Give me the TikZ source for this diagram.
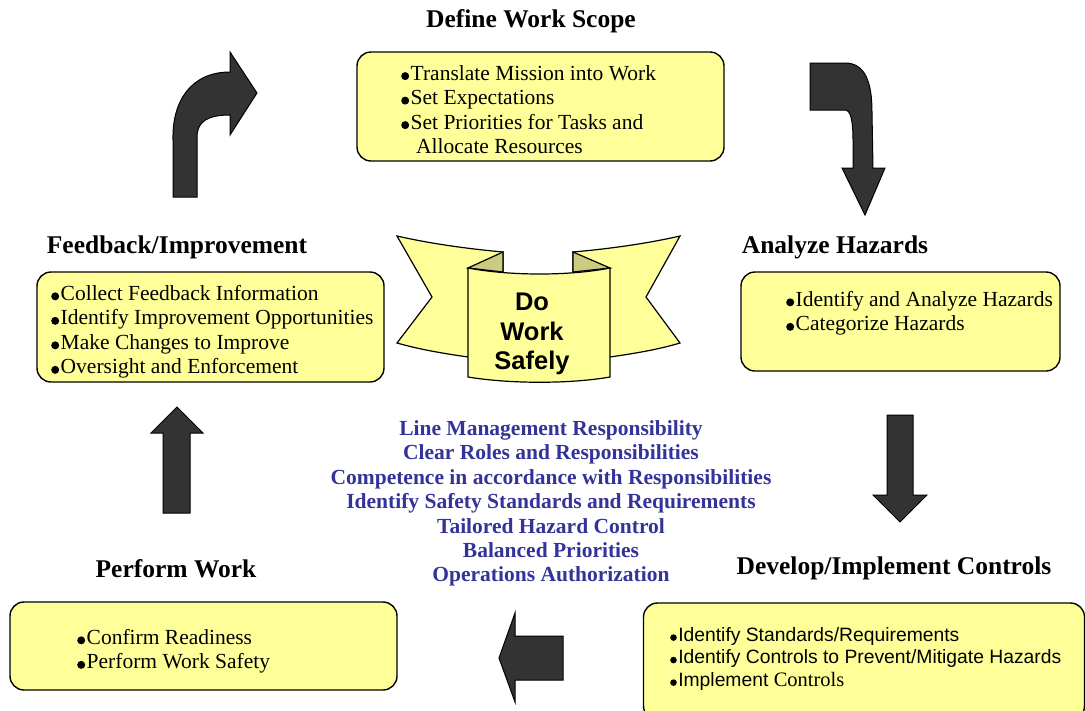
\documentclass[tikz,border=0pt]{standalone}
\usepackage{fontspec}
\setmainfont{Liberation Serif}
\setsansfont{Liberation Sans}
\definecolor{boxyellow}{RGB}{255,255,153}
\definecolor{foldolive}{RGB}{204,204,128}
\definecolor{arrowgray}{RGB}{51,51,51}
\definecolor{principleblue}{RGB}{51,51,153}
% round list bullets sitting on the baseline
\newcommand\bul{\tikz[baseline=0pt,x=1pt,y=1pt]\fill[black] (0,4) circle[radius=4];\hspace{1.5pt}}
\newcommand\sbul{\tikz[baseline=0pt,x=1pt,y=1pt]\fill[black] (0,3.6) circle[radius=3.3];\hspace{1.5pt}}
\begin{document}
\begin{tikzpicture}[x=1pt,y=-1pt,
  box/.style={draw=black, line width=1.4pt, fill=boxyellow, rounded corners=14pt, inner sep=0pt},
  heading/.style={font=\fontsize{25.5}{30}\selectfont\bfseries, inner sep=0pt},
  body/.style={font=\fontsize{21.5}{24.5}\selectfont, align=left, anchor=north west, inner sep=0pt},
  sbody/.style={font=\sffamily\fontsize{19.3}{22.5}\selectfont, align=left, anchor=north west, inner sep=0pt},
  blockarrow/.style={draw=black, line width=1pt, fill=arrowgray, line join=miter},
  ribbon/.style={draw=black, line width=1.2pt, fill=boxyellow, line join=miter},
  fold/.style={draw=black, line width=1.2pt, fill=foldolive, line join=miter}]
\useasboundingbox (0,0) rectangle (1085,710);
\clip (0,0) rectangle (1085,710);

% ---- step boxes
\node[box, minimum width=367pt, minimum height=109pt] (scopebox) at (540.5,106.5) {};
\node[box, minimum width=347pt, minimum height=110pt] (feedbox) at (210.5,327) {};
\node[box, minimum width=319pt, minimum height=99pt] (hazbox) at (900.5,321.5) {};
\node[box, minimum width=387pt, minimum height=88pt] (perfbox) at (203.5,646) {};
\node[box, minimum width=441pt, minimum height=117pt] (ctrlbox) at (864,661.5) {};

% ---- headings
\node[heading] (scopetitle) at (531,21.5) {Define Work Scope};
\node[heading] (feedtitle) at (177,247.5) {Feedback/Improvement};
\node[heading] (haztitle) at (835,247.5) {Analyze Hazards};
\node[heading] (perftitle) at (176,568.5) {Perform Work};
\node[heading] (ctrltitle) at (894,568.5) {Develop/Implement Controls};

% ---- box contents
\node[body] (scopetext) at (401,65) {\bul Translate Mission into Work\\\bul Set Expectations\\\bul Set Priorities for Tasks and\\\hspace*{15pt}Allocate Resources};
\node[body] (feedtext) at (51,285) {\bul Collect Feedback Information\\\bul Identify Improvement Opportunities\\\bul Make Changes to Improve\\\bul Oversight and Enforcement};
\node[body] (haztext) at (786,291) {\bul Identify and Analyze Hazards\\\bul Categorize Hazards};
\node[body] (perftext) at (77,629) {\bul Confirm Readiness\\\bul Perform Work Safety};
\node[sbody] (ctrltext) at (670,627) {\sbul Identify Standards/Requirements\\\sbul Identify Controls to Prevent/Mitigate Hazards\\\sbul Implement {\rmfamily\fontsize{20.5}{22.5}\selectfont Controls}};

% ---- cycle arrows
\draw[blockarrow] (173,197) -- (197,197) -- (197,137)
  .. controls (197,122) and (207,115) .. (230,115) -- (230,135) -- (257,93) -- (230,52) -- (230,72)
  .. controls (192,72) and (172,100) .. (173,140) -- cycle;
\draw[blockarrow] (810,63) -- (845,63) .. controls (865,63) and (872,82) .. (872,112) -- (873,168)
  -- (885,168) -- (865,215) -- (842,168) -- (853,168) -- (853,140)
  .. controls (853,122) and (851,110) .. (845,110) -- (810,110) -- cycle;
\draw[blockarrow] (887,415) -- (913,415) -- (913,495) -- (927,495) -- (900,522) -- (873,495) -- (887,495) -- cycle;
\draw[blockarrow] (563,636) -- (563,680) -- (515,680) -- (515,702) -- (499,658) -- (515,613) -- (515,636) -- cycle;
\draw[blockarrow] (163,513) -- (190,513) -- (190,433) -- (203,433) -- (177,407) -- (151,433) -- (163,433) -- cycle;

% ---- central banner
\draw[ribbon] (397,236) .. controls (432,244) and (470,249) .. (503,252) -- (503,360) -- (468,357)
  .. controls (440,353) and (418,349) .. (397,343) -- (432,297) -- cycle;
\draw[ribbon] (680,236) .. controls (645,244) and (607,249) .. (573,252) -- (573,360) -- (610,357)
  .. controls (638,353) and (660,349) .. (680,343) -- (646,297) -- cycle;
\draw[fold] (503,252) -- (468,268) -- (503,272) -- cycle;
\draw[fold] (573,252) -- (610,268) -- (573,272) -- cycle;
\draw[ribbon] (468,268) .. controls (510,276) and (570,276) .. (610,268) -- (610,377)
  .. controls (570,384) and (510,384) .. (468,377) -- cycle;
\node[font=\sffamily\bfseries\fontsize{25.5}{29.5}\selectfont, align=center, inner sep=0pt] (motto) at (532,334) {Do\\Work\\Safely};

% ---- guiding principles
\node[font=\fontsize{21.5}{24.4}\selectfont\bfseries, text=principleblue, align=center, inner sep=0pt] (principles) at (551,503.5)
  {Line Management Responsibility\\Clear Roles and Responsibilities\\Competence in accordance with Responsibilities\\Identify Safety Standards and Requirements\\Tailored Hazard Control\\Balanced Priorities\\Operations Authorization};
\end{tikzpicture}
\end{document}
